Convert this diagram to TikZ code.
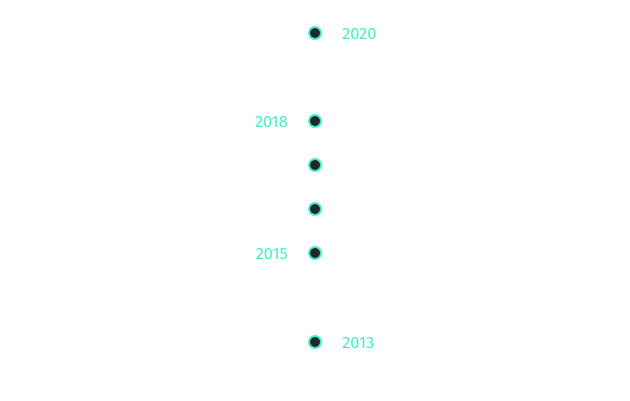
\documentclass[tikz,border=0pt]{standalone}
\usepackage{fontspec}
\setmainfont{Fira Sans}
\usetikzlibrary{positioning}
\definecolor{MintLine}{HTML}{3CF2C6}
\definecolor{DotFill}{HTML}{23262D}

\tikzset{
  yeardot/.style={circle, fill=DotFill, draw=MintLine, line width=1.4pt, minimum size=9pt, inner sep=0pt},
  yearlabel/.style={font=\fontsize{12.2}{14}\selectfont, text=MintLine, inner sep=0pt}
}

\begin{document}
\begin{tikzpicture}[x=0.75pt, y=-0.75pt]
  \useasboundingbox (0,0) rectangle (630,400);

  \node[yeardot] (d2020) at (315, 33) {};
  \node[yearlabel, anchor=west] (y2020) at (342, 34) {2020};

  \node[yeardot] (d2018) at (315, 121) {};
  \node[yearlabel, anchor=east] (y2018) at (288, 122) {2018};

  \node[yeardot] (d2017) at (315, 165) {};
  \node[yeardot] (d2016) at (315, 209) {};

  \node[yeardot] (d2015) at (315, 253) {};
  \node[yearlabel, anchor=east] (y2015) at (288, 254) {2015};

  \node[yeardot] (d2013) at (315, 342) {};
  \node[yearlabel, anchor=west] (y2013) at (342, 343) {2013};
\end{tikzpicture}
\end{document}
